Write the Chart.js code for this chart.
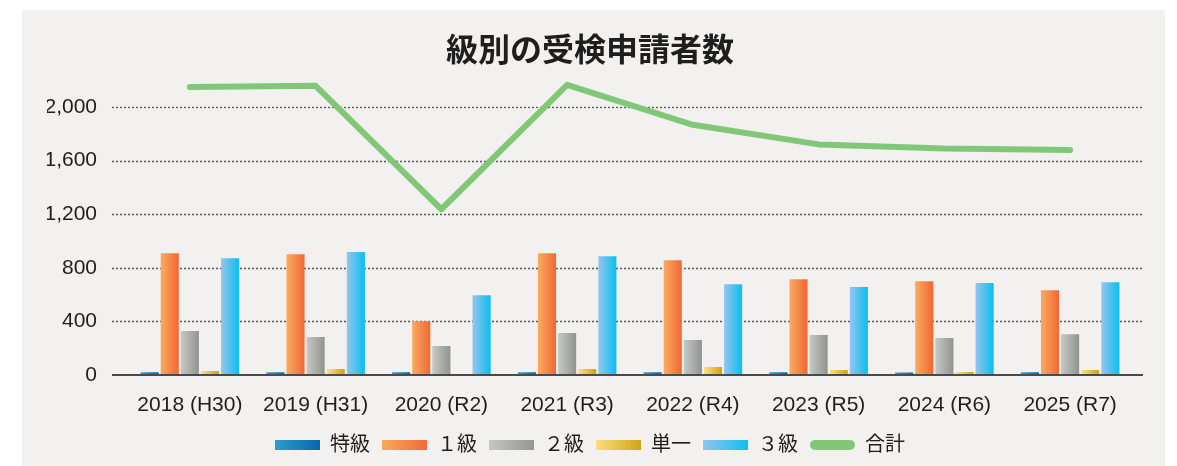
<!DOCTYPE html>
<html lang="ja">
<head>
<meta charset="utf-8">
<title>級別の受検申請者数</title>
<script src="https://cdn.jsdelivr.net/npm/chart.js@4.4.1/dist/chart.umd.min.js"></script>
<style>
  html, body { margin: 0; padding: 0; background: #ffffff; }
  #panel { position: absolute; left: 22px; top: 10px; width: 1143px; height: 456px; background: #f2f1ef; }
  #panel canvas { display: block; }
</style>
</head>
<body>
<div id="panel"><canvas id="chart" width="1143" height="456"></canvas></div>
<script>
/* 級別の受検申請者数 — 年度ごとの棒グラフ + 合計の折れ線 */

var YEARS = ['2018 (H30)', '2019 (H31)', '2020 (R2)', '2021 (R3)', '2022 (R4)', '2023 (R5)', '2024 (R6)', '2025 (R7)'];
var TOKKYU = [20, 20, 20, 20, 20, 20, 18, 20];          // 特級
var KYU1 = [909, 902, 402, 909, 857, 715, 700, 633];    // １級
var KYU2 = [328, 283, 216, 313, 261, 298, 276, 305];    // ２級
var TANITSU = [30, 45, 8, 45, 60, 37, 22, 37];          // 単一
var KYU3 = [872, 917, 596, 887, 678, 656, 686, 693];    // ３級
var TOTAL = [2150, 2158, 1237, 2165, 1867, 1721, 1690, 1680]; // 合計
var Y_TICKS = [0, 400, 800, 1200, 1600, 2000];

// 棒の横グラデーション (左 → 右)
var BAR_COLORS = [
  { label: '特級', from: '#2b9dd0', to: '#0a67a9', mid: '#1a82bd' },
  { label: '１級', from: '#f9a85e', to: '#f26a36', mid: '#f5894a' },
  { label: '２級', from: '#c3c6c1', to: '#939692', mid: '#abaeaa' },
  { label: '単一', from: '#f8df7c', to: '#d2a418', mid: '#e5c14a' },
  { label: '３級', from: '#8ec5ee', to: '#10bef0', mid: '#4fc1ef' }
];
var LINE_COLOR = '#80c878';
var TEXT_COLOR = '#1e1e1e';
var JP_FONT = "'Liberation Sans', 'Noto Sans CJK JP', sans-serif";

var BAR_SERIES = [TOKKYU, KYU1, KYU2, TANITSU, KYU3];

function barGradient(dsIndex) {
  var col = BAR_COLORS[dsIndex];
  return function (ctx) {
    var chart = ctx.chart;
    var xs = chart.scales.x;
    if (!xs || ctx.type !== 'data') return col.mid;
    var catW = xs.width / YEARS.length;
    var slot = catW * 0.8 / BAR_SERIES.length;
    var barW = slot * 0.8;
    var center = xs.getPixelForValue(ctx.dataIndex);
    var x0 = center - catW * 0.4 + slot * dsIndex + (slot - barW) / 2;
    var g = chart.ctx.createLinearGradient(x0, 0, x0 + barW, 0);
    g.addColorStop(0, col.from);
    g.addColorStop(1, col.to);
    return g;
  };
}

// 点線のグリッド (プロット領域より少し外まで伸ばす)
var gridPlugin = {
  id: 'dottedGrid',
  beforeDatasetsDraw: function (chart) {
    var c = chart.ctx, a = chart.chartArea, y = chart.scales.y;
    c.save();
    c.strokeStyle = '#555555';
    c.lineWidth = 1.3;
    c.setLineDash([2, 2]);
    Y_TICKS.forEach(function (v) {
      if (v === 0) return;
      var py = Math.round(y.getPixelForValue(v)) + 0.5;
      c.beginPath();
      c.moveTo(a.left - 15, py);
      c.lineTo(a.right + 10, py);
      c.stroke();
    });
    c.restore();
  },
  afterDatasetsDraw: function (chart) {
    var c = chart.ctx, a = chart.chartArea, y = chart.scales.y;
    var py = y.getPixelForValue(0);
    c.save();
    c.strokeStyle = '#4a4a4a';
    c.lineWidth = 2;
    c.beginPath();
    c.moveTo(a.left - 15, py);
    c.lineTo(a.right + 10, py);
    c.stroke();
    c.restore();
  }
};

// 凡例の箱をグラデーション/角丸で描き直す
var legendBoxPlugin = {
  id: 'legendBoxes',
  afterDraw: function (chart) {
    var lg = chart.legend;
    if (!lg || !lg.legendHitBoxes) return;
    var opts = lg.options.labels;
    var fontSize = opts.font.size;
    var c = chart.ctx;
    c.save();
    lg.legendHitBoxes.forEach(function (hit, i) {
      var x = hit.left;
      var y = hit.top + Math.max((fontSize - opts.boxHeight) / 2, 0);
      if (i < BAR_COLORS.length) {
        var g = c.createLinearGradient(x, 0, x + opts.boxWidth, 0);
        g.addColorStop(0, BAR_COLORS[i].from);
        g.addColorStop(1, BAR_COLORS[i].to);
        c.fillStyle = g;
        c.fillRect(x, y, opts.boxWidth, opts.boxHeight);
      } else {
        c.fillStyle = LINE_COLOR;
        c.beginPath();
        c.roundRect(x, y, opts.boxWidth, opts.boxHeight, opts.boxHeight / 2);
        c.fill();
      }
    });
    c.restore();
  }
};

var datasets = BAR_SERIES.map(function (data, i) {
  return {
    type: 'bar',
    label: BAR_COLORS[i].label,
    data: data,
    backgroundColor: barGradient(i),
    borderWidth: 0
  };
});
datasets.push({
  type: 'line',
  label: '合計',
  data: TOTAL,
  borderColor: LINE_COLOR,
  backgroundColor: LINE_COLOR,
  borderWidth: 6,
  borderCapStyle: 'round',
  borderJoinStyle: 'round',
  pointRadius: 0,
  tension: 0
});

new Chart(document.getElementById('chart'), {
  type: 'bar',
  data: { labels: YEARS, datasets: datasets },
  plugins: [gridPlugin, legendBoxPlugin],
  options: {
    responsive: false,
    animation: false,
    devicePixelRatio: 1,
    layout: { padding: { left: 25, right: 32, top: 0, bottom: 1 } },
    plugins: {
      title: {
        display: true,
        text: '級別の受検申請者数',
        color: TEXT_COLOR,
        font: { family: "'Noto Sans CJK JP', sans-serif", size: 32, weight: 'bold', lineHeight: 1.2 },
        padding: { top: 20, bottom: -15 }
      },
      legend: {
        position: 'bottom',
        labels: {
          boxWidth: 45,
          boxHeight: 10,
          padding: 12,
          color: TEXT_COLOR,
          font: { family: JP_FONT, size: 20 },
          generateLabels: function (chart) {
            return chart.data.datasets.map(function (ds, i) {
              return {
                text: ds.label,
                fillStyle: 'rgba(0,0,0,0)',
                strokeStyle: 'rgba(0,0,0,0)',
                lineWidth: 0,
                hidden: false,
                datasetIndex: i,
                fontColor: TEXT_COLOR
              };
            });
          }
        }
      },
      tooltip: { enabled: false }
    },
    scales: {
      x: {
        grid: { display: false, drawTicks: false },
        border: { display: false },
        ticks: { color: TEXT_COLOR, font: { family: JP_FONT, size: 21 }, padding: 18, maxRotation: 0, autoSkip: false },
        afterFit: function (scale) { scale.height = 48; }
      },
      y: {
        min: 0,
        max: 2400,
        grid: { display: false, drawTicks: false },
        border: { display: false },
        ticks: {
          stepSize: 400,
          color: TEXT_COLOR,
          font: { family: JP_FONT, size: 21 },
          padding: 30,
          callback: function (v) { return Number(v).toLocaleString('en-US'); }
        },
        afterBuildTicks: function (scale) {
          scale.ticks = Y_TICKS.map(function (v) { return { value: v }; });
        },
        afterFit: function (scale) { scale.width = 80; }
      }
    }
  }
});
</script>
</body>
</html>
